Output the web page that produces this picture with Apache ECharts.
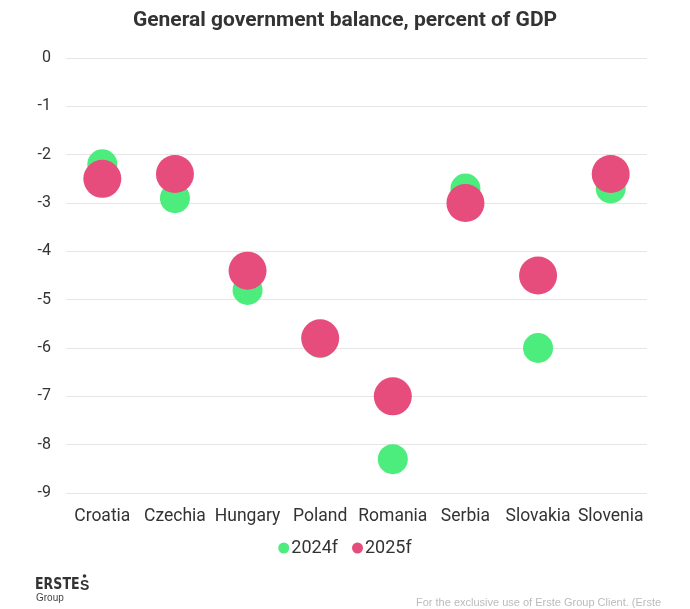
<!DOCTYPE html>
<html>
<head>
<meta charset="utf-8">
<script src="https://cdn.jsdelivr.net/npm/echarts@6/dist/echarts.min.js"></script>
<style>html,body{margin:0;padding:0;background:#fff}#c{width:690px;height:609px}</style>
</head>
<body>
<div id="c"></div>
<script>
const categories = ['Croatia','Czechia','Hungary','Poland','Romania','Serbia','Slovakia','Slovenia'];
const values2024 = [-2.2, -2.9, -4.8, -5.9, -8.3, -2.7, -6.0, -2.7];
const values2025 = [-2.5, -2.4, -4.4, -5.8, -7.0, -3.0, -4.5, -2.4];
const yTicks = [0, -1, -2, -3, -4, -5, -6, -7, -8, -9];

const chart = echarts.init(document.getElementById('c'), null, {renderer: 'canvas'});
const font = 'Roboto, "Open Sans", sans-serif';
chart.setOption({
  animation: false,
  backgroundColor: '#fff',
  title: {
    text: 'General government balance, percent of GDP',
    left: 'center', top: 5,
    textStyle: {fontFamily: font, fontSize: 21, fontWeight: 'bold', color: '#333'}
  },
  legend: {
    top: 534, left: 'center',
    itemWidth: 11, itemHeight: 11, itemGap: 14,
    icon: 'circle',
    data: ['2024f', '2025f'],
    textStyle: {fontFamily: font, fontSize: 18, color: '#333', padding: [0, 0, 0, -3]}
  },
  grid: {left: 66, right: 43, top: 58, bottom: 116},
  xAxis: {
    type: 'category', data: categories,
    axisLine: {show: false}, axisTick: {show: false},
    axisLabel: {fontFamily: font, fontSize: 17.5, color: '#333', margin: 15, interval: 0}
  },
  yAxis: {
    type: 'value', min: -9, max: 0, interval: 1,
    axisLabel: {fontFamily: font, fontSize: 16, color: '#333', margin: 15,
      formatter: v => yTicks.includes(v) ? String(v) : ''},
    splitLine: {lineStyle: {color: '#e6e6e6', width: 1}},
    axisLine: {show: false}, axisTick: {show: false}
  },
  series: [
    {name: '2024f', type: 'scatter', data: values2024, symbolSize: 30,
     itemStyle: {color: '#4ded7d', opacity: 1}},
    {name: '2025f', type: 'scatter', data: values2025, symbolSize: 38,
     itemStyle: {color: '#e64d7c', opacity: 1}}
  ],
  graphic: [
    {type: 'text', left: 35, top: 577, scaleY: 1.15, style: {text: 'ERSTE', fontFamily: '"Liberation Sans Narrow", "DejaVu Sans Condensed", sans-serif', fontSize: 14, fontWeight: 'bold', fill: '#333'}},
    {type: 'text', left: 80, top: 578, scaleY: 1.1, style: {text: 'S', fontFamily: '"Liberation Sans Narrow", sans-serif', fontSize: 14, fontWeight: 'bold', fill: '#333'}},
    {type: 'circle', shape: {cx: 84.5, cy: 576, r: 1.8}, style: {fill: '#333'}},
    {type: 'text', left: 36, top: 593, style: {text: 'Group', fontFamily: '"Liberation Sans Narrow", sans-serif', fontSize: 10, fill: '#444'}},
    {type: 'text', left: 416, top: 597, style: {text: 'For the exclusive use of Erste Group Client. (Erste', fontFamily: '"Liberation Sans", Arial, sans-serif', fontSize: 11, fill: '#bbb'}}
  ]
});
</script>
</body>
</html>
